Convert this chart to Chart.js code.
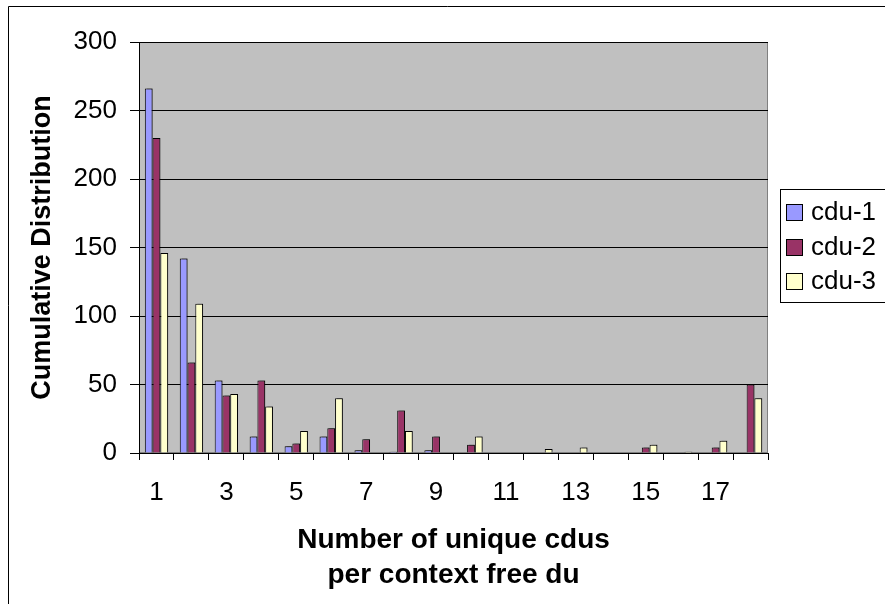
<!DOCTYPE html>
<html>
<head>
<meta charset="utf-8">
<script src="https://cdn.jsdelivr.net/npm/chart.js@4/dist/chart.umd.min.js"></script>
<style>
  html, body { margin: 0; padding: 0; background: #fff; }
  #wrap { position: relative; width: 885px; height: 604px; }
</style>
</head>
<body>
<div id="wrap"><canvas id="grafico" width="885" height="604"></canvas></div>
<script>
// dados
const categorias = ["1","2","3","4","5","6","7","8","9","10","11","12","13","14","15","16","17","18"];
const cdu1 = [266, 142, 53, 12, 5, 12, 2, 1, 2, 0, 0, 0, 0, 0, 0, 0, 0, 0];
const cdu2 = [230, 66, 42, 53, 7, 18, 10, 31, 12, 6, 0, 0, 0, 0, 4, 0, 4, 50];
const cdu3 = [146, 109, 43, 34, 16, 40, 0, 16, 0, 12, 0, 3, 4, 0, 6, 1, 9, 40];
const ticksY = [0, 50, 100, 150, 200, 250, 300];

const fonte = "'Liberation Sans', Arial, Helvetica, sans-serif";

// fundo cinza da area do grafico + borda externa + legenda
const pluginFundo = {
  id: 'fundo',
  beforeDraw(chart) {
    const ctx = chart.ctx;
    const a = chart.chartArea;
    ctx.save();
    ctx.fillStyle = '#fff';
    ctx.fillRect(0, 0, chart.width, chart.height);
    ctx.strokeStyle = '#000';
    ctx.lineWidth = 1;
    ctx.beginPath();
    ctx.moveTo(8.5, 700);
    ctx.lineTo(8.5, 6.5);
    ctx.lineTo(900, 6.5);
    ctx.stroke();
    ctx.fillStyle = '#c0c0c0';
    ctx.fillRect(a.left, a.top, a.right - a.left, a.bottom - a.top);
    ctx.strokeStyle = '#808080';
    ctx.strokeRect(a.left + 0.5, a.top + 0.5, a.right - a.left - 1, a.bottom - a.top - 1);
    ctx.restore();
  },
  // sombra leve nas barras
  beforeDatasetsDraw(chart) {
    const ctx = chart.ctx;
    ctx.save();
    ctx.shadowColor = 'rgba(0,0,0,0.35)';
    ctx.shadowOffsetX = 2;
    ctx.shadowOffsetY = -1;
    ctx.shadowBlur = 0;
  },
  afterDatasetsDraw(chart) {
    chart.ctx.restore();
  },
  afterDraw(chart) {
    const ctx = chart.ctx;
    ctx.save();
    ctx.strokeStyle = '#000';
    ctx.lineWidth = 1;
    ctx.fillStyle = '#fff';
    ctx.fillRect(780, 189, 120, 113);
    ctx.strokeRect(780.5, 189.5, 120, 113);
    const linhas = [212, 247, 281];
    chart.data.datasets.forEach(function (ds, i) {
      const y = linhas[i];
      ctx.fillStyle = ds.backgroundColor;
      ctx.fillRect(786, y - 8, 17, 17);
      ctx.strokeRect(786.5, y - 7.5, 16, 16);
      ctx.fillStyle = '#000';
      ctx.font = '26px ' + fonte;
      ctx.textBaseline = 'middle';
      ctx.textAlign = 'left';
      ctx.fillText(ds.label, 811, y + 1);
    });
    ctx.restore();
  }
};

const dados = {
  labels: categorias,
  datasets: [
    { label: 'cdu-1', data: cdu1, backgroundColor: '#9999ff', borderColor: '#000', borderWidth: 1 },
    { label: 'cdu-2', data: cdu2, backgroundColor: '#993366', borderColor: '#000', borderWidth: 1 },
    { label: 'cdu-3', data: cdu3, backgroundColor: '#ffffcc', borderColor: '#000', borderWidth: 1 }
  ]
};

const config = {
  type: 'bar',
  data: dados,
  plugins: [pluginFundo],
  options: {
    responsive: false,
    animation: false,
    devicePixelRatio: 1,
    layout: { padding: { left: 8, top: 42, right: 117, bottom: 0 } },
    datasets: { bar: { categoryPercentage: 0.667, barPercentage: 1 } },
    plugins: {
      legend: { display: false },
      tooltip: { enabled: false }
    },
    scales: {
      x: {
        grid: { display: true, drawOnChartArea: false, drawTicks: true, tickLength: 7, color: '#000', offset: true },
        border: { color: '#000' },
        ticks: {
          color: '#000',
          autoSkip: false,
          maxRotation: 0,
          padding: 17,
          font: { size: 26, family: fonte },
          callback: function (v, i) { return i % 2 == 0 ? categorias[i] : ''; }
        },
        title: {
          display: true,
          text: ['Number of unique cdus', 'per context free du'],
          color: '#000',
          font: { size: 28, weight: 'bold', family: fonte, lineHeight: 1.25 },
          padding: { top: 0, bottom: 11 }
        },
        afterFit: function (scale) { scale.height = 151; }
      },
      y: {
        min: 0,
        max: 300,
        afterBuildTicks: function (scale) { scale.ticks = ticksY.map(v => ({ value: v })); },
        grid: { color: '#000', tickLength: 9, drawTicks: true },
        border: { color: '#000' },
        ticks: {
          color: '#000',
          padding: 13,
          font: { size: 26, family: fonte }
        },
        title: {
          display: true,
          text: 'Cumulative Distribution',
          color: '#000',
          font: { size: 27, weight: 'bold', family: fonte },
          padding: { top: 18, bottom: 0 }
        },
        afterFit: function (scale) { scale.width = 131; }
      }
    }
  }
};

let grafico = new Chart(document.getElementById('grafico'), config);
</script>
</body>
</html>
